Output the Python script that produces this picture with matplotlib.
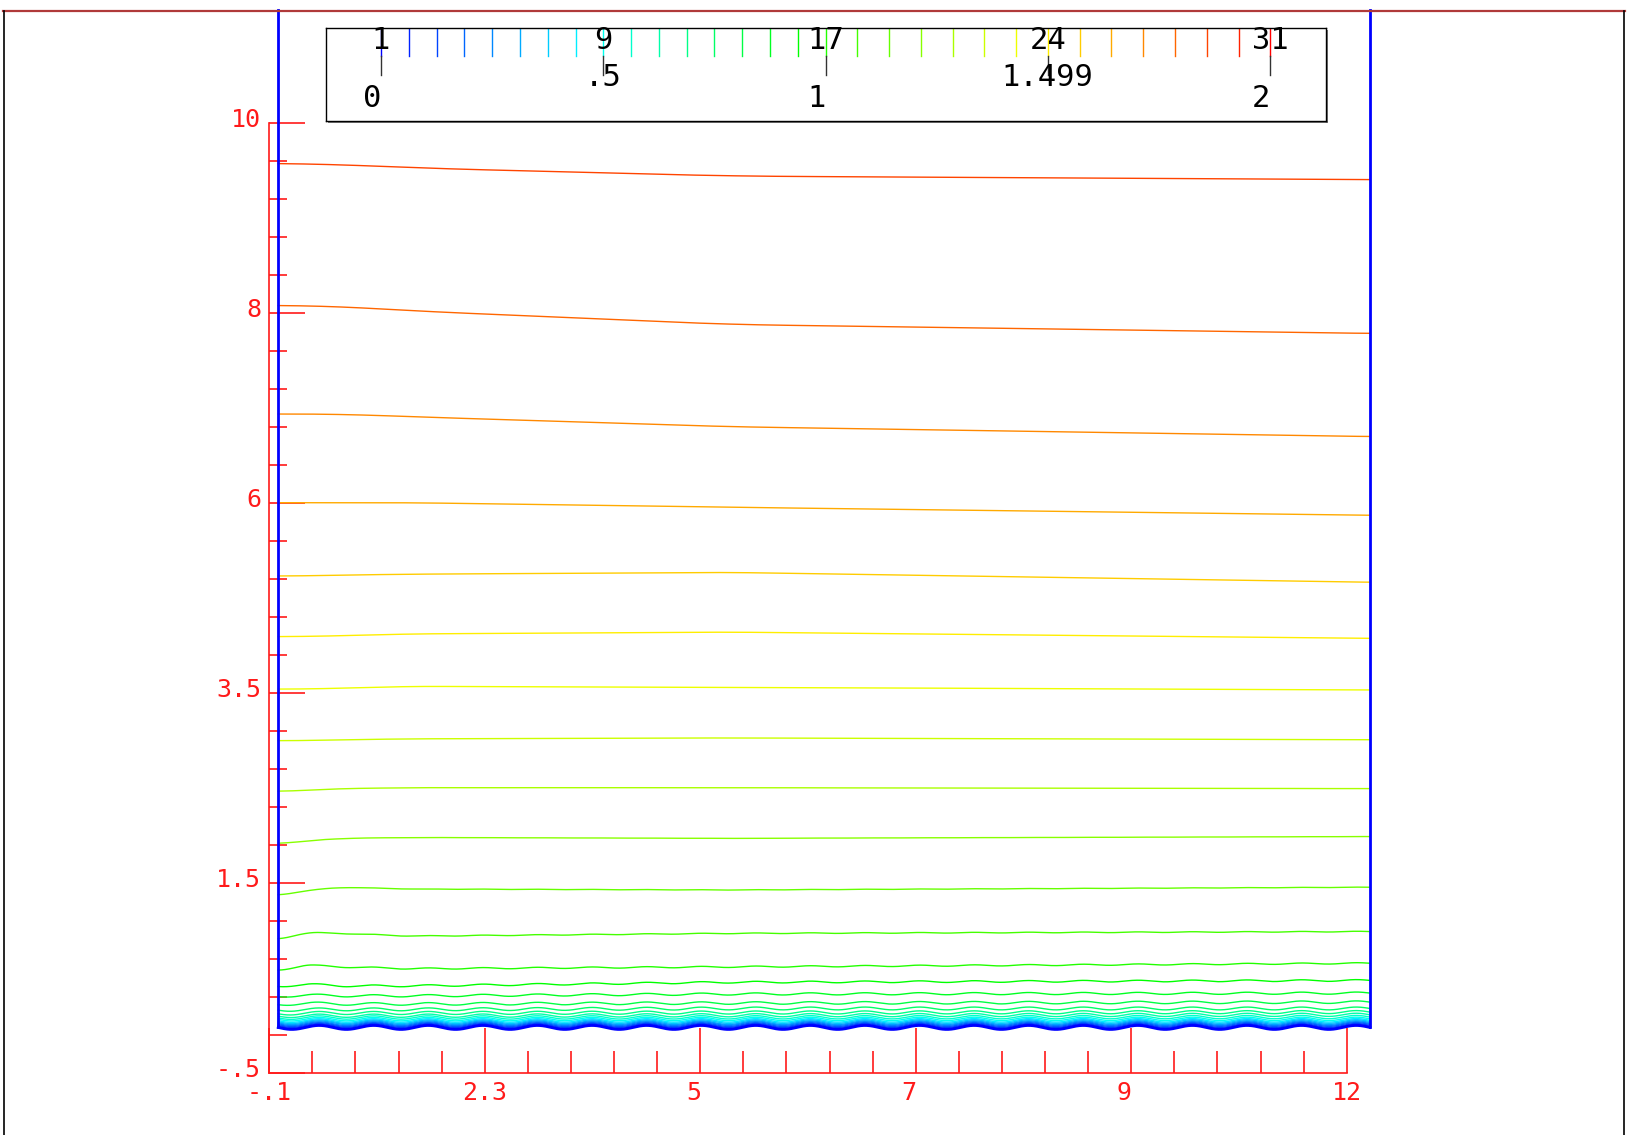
import numpy as np
import matplotlib
matplotlib.use('Agg')
import matplotlib.pyplot as plt
import matplotlib.transforms as mtransforms
from matplotlib.colors import hsv_to_rgb
from matplotlib.lines import Line2D
from matplotlib.patches import Rectangle

W, H, DPI = 1630, 1135, 100

# iso values: 17 levels on [0,1] then 14 more up to 2  (31 in total)
levels = np.concatenate([np.linspace(0, 1, 17), np.linspace(1, 2, 15)[1:]])

# legend texts
idx_labels = [1, 9, 17, 24, 31]
val_ticks = [0, 0.5, 1, 1.499, 2]
val_labels = ['0', '.5', '1', '1.499', '2']

# axis texts
xtick_labels = ['-.1', '2.3', '5', '7', '9', '12']
ytick_labels = ['-.5', '1.5', '3.5', '6', '8', '10']
x_range = (-0.1, 12.0)
y_range = (-0.5, 10.0)

# domain: wavy bottom wall, two side walls
L = 12.26
H_top = 11.25
n_waves = 20
wave_amp = 0.022

# height of each iso line (level index) at a few x stations
stations = [0.0, 0.3, 0.7, 1.5, 5.05, 12.26]
iso_index = [29, 28, 27, 26, 25, 24, 23, 22, 21, 20, 19, 18, 17, 16,
             15, 14, 13, 12, 11, 10, 9, 8, 7, 6, 5, 4, 3, 2]
iso_heights = [
    [9.55, 9.55, 9.54, 9.50, 9.41, 9.37],
    [7.98, 7.98, 7.97, 7.92, 7.77, 7.67],
    [6.78, 6.78, 6.78, 6.75, 6.64, 6.53],
    [5.80, 5.80, 5.80, 5.80, 5.75, 5.66],
    [4.99, 4.99, 5.00, 5.01, 5.03, 4.92],
    [4.32, 4.32, 4.33, 4.35, 4.37, 4.30],
    [3.74, 3.74, 3.75, 3.77, 3.76, 3.73],
    [3.17, 3.17, 3.18, 3.19, 3.20, 3.18],
    [2.61, 2.62, 2.64, 2.65, 2.65, 2.64],
    [2.03, 2.06, 2.09, 2.10, 2.09, 2.11],
    [1.46, 1.51, 1.55, 1.53, 1.52, 1.55],
    [0.97, 1.05, 1.04, 1.01, 1.04, 1.06],
    [0.63, 0.69, 0.67, 0.65, 0.67, 0.71],
    [0.45, 0.48, 0.46, 0.46, 0.50, 0.52],
    [0.34, 0.36, 0.35, 0.35, 0.37, 0.38],
    [0.25, 0.27, 0.26, 0.26, 0.27, 0.28],
    [0.19, 0.20, 0.20, 0.20, 0.21, 0.21],
    [0.15, 0.16, 0.16, 0.16, 0.165, 0.17],
    [0.125, 0.13, 0.13, 0.13, 0.135, 0.14],
    [0.105, 0.11, 0.11, 0.11, 0.112, 0.115],
    [0.09, 0.092, 0.092, 0.092, 0.094, 0.095],
    [0.075, 0.077, 0.077, 0.077, 0.078, 0.079],
    [0.063, 0.064, 0.064, 0.064, 0.065, 0.066],
    [0.052, 0.053, 0.053, 0.053, 0.053, 0.054],
    [0.042, 0.042, 0.042, 0.042, 0.043, 0.043],
    [0.032, 0.032, 0.032, 0.032, 0.032, 0.033],
    [0.022, 0.022, 0.022, 0.022, 0.022, 0.022],
    [0.012, 0.012, 0.012, 0.012, 0.012, 0.012],
]

# freefem like palette, hue from blue to red
colors = [hsv_to_rgb([2/3 * (1 - i / (len(levels) - 1)), 1, 1]) for i in range(len(levels))]
red = '#ff1a1a'
mono = 'DejaVu Sans Mono'

fig = plt.figure(figsize=(W / DPI, H / DPI), dpi=DPI)
fig.patch.set_facecolor('white')

# ---- main plot
ax = fig.add_axes([269.3 / W, 1 - 1072.7 / H, 1077.4 / W, 950 / H])
ax.set_xlim(x_range)
ax.set_ylim(y_range)
ax.patch.set_visible(False)
for s in ['top', 'right']:
    ax.spines[s].set_visible(False)
for s in ['left', 'bottom']:
    ax.spines[s].set_color(red)
    ax.spines[s].set_linewidth(1.2)

xx = np.linspace(0, L, 3000)
wall = -wave_amp * np.sin(2 * np.pi * n_waves * xx / L)

for k, row in zip(iso_index, iso_heights):
    base = np.interp(xx, stations, row)
    # moving average so the station polyline has no kinks (wider up high)
    win = 41 + 40 * int(np.mean(row))
    pad = win // 2
    padded = np.concatenate([np.full(pad, base[0]), base, np.full(pad, base[-1])])
    base = np.convolve(padded, np.ones(win) / win, mode='valid')
    yy = base + wall * np.exp(-base / 0.6)
    ax.plot(xx, yy, color=colors[k - 1], lw=1.0, clip_on=False, zorder=2)

ax.plot(xx, wall, color='#0000ff', lw=2.0, clip_on=False, zorder=3)
ax.plot([0, 0], [0, H_top], color='#0000ff', lw=2.0, clip_on=False, zorder=3)
ax.plot([L, L], [wall[-1], H_top], color='#0000ff', lw=2.0, clip_on=False, zorder=3)

ax.set_xticks(np.linspace(*x_range, 6))
ax.set_xticks(np.linspace(*x_range, 26), minor=True)
ax.set_yticks(np.linspace(*y_range, 6))
ax.set_yticks(np.linspace(*y_range, 26), minor=True)
ax.set_xticklabels(xtick_labels)
ax.set_yticklabels(ytick_labels)
ax.tick_params(axis='both', which='both', direction='in', color=red, width=1.2,
               labelcolor=red, labelsize=18)
ax.tick_params(axis='x', which='major', length=32.4, pad=6)
ax.tick_params(axis='x', which='minor', length=15.8)
ax.tick_params(axis='y', which='major', length=26.2, pad=6)
ax.tick_params(axis='y', which='minor', length=13)
for lab in ax.get_xticklabels() + ax.get_yticklabels():
    lab.set_family(mono)

# single digit labels sit a bit to the left, y labels a bit up
for lab in ax.get_xticklabels():
    if len(lab.get_text()) == 1:
        lab.set_transform(lab.get_transform() +
                          mtransforms.ScaledTranslation(-7 / DPI, 0, fig.dpi_scale_trans))
for lab in ax.get_yticklabels():
    lab.set_transform(lab.get_transform() +
                      mtransforms.ScaledTranslation(0, 5 / DPI, fig.dpi_scale_trans))

# ---- legend box
lx0, ly0, lx1, ly1 = 325.7, 27.7, 1325.7, 121
fig.add_artist(Rectangle(((lx0 + 2) / W, 1 - (ly1 + 2) / H), (lx1 - lx0) / W, (ly1 - ly0) / H,
                         transform=fig.transFigure, facecolor='#777777', edgecolor='none', zorder=4))
lg = fig.add_axes([lx0 / W, 1 - ly1 / H, (lx1 - lx0) / W, (ly1 - ly0) / H], zorder=5)
px_per_val = 444.65
lg.set_xlim(-55.3 / px_per_val, (lx1 - lx0 - 55.3) / px_per_val)
lg.set_ylim(0, 1)
lg.set_xticks([])
lg.set_yticks([])
for s in lg.spines.values():
    s.set_linewidth(1.0)
for v, c in zip(levels, colors):
    lg.plot([v, v], [0.7, 1.0], color=c, lw=1.0)
for v in val_ticks:
    lg.plot([v, v], [0.493, 0.7], color='#333333', lw=1.0)
for i in idx_labels:
    lg.text(levels[i - 1], 0.868, str(i), ha='center', va='center',
            fontsize=22, family=mono, color='black')
for v, t in zip(val_ticks, val_labels):
    if len(t) == 1:
        lg.annotate(t, (v, 0.236), xytext=(-6.5, 0), textcoords='offset points',
                    ha='center', va='center', fontsize=22, family=mono)
    else:
        lg.annotate(t, (v, 0.461), xytext=(0, 0), textcoords='offset points',
                    ha='center', va='center', fontsize=22, family=mono)

# ---- window frame
fig.add_artist(Line2D([3 / W, 1625 / W], [1 - 10.5 / H] * 2, color='#b03a3a', lw=1.6))
fig.add_artist(Line2D([3.5 / W] * 2, [0, 1 - 10.5 / H], color='black', lw=1.2))
fig.add_artist(Line2D([1624 / W] * 2, [0, 1 - 10.5 / H], color='black', lw=1.2))

fig.savefig('out.png', dpi=DPI)
